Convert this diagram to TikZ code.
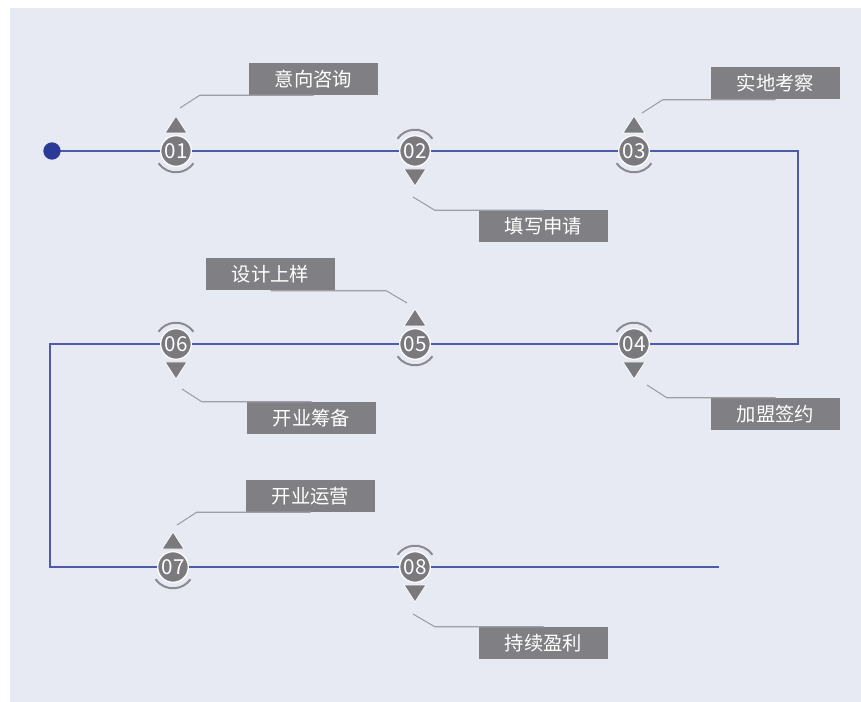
\documentclass[tikz,border=0pt]{standalone}
\usepackage{fontspec}
\usepackage{tikz}
\usetikzlibrary{calc}
\usepackage{color}
\newfontfamily\cjk{Noto Sans CJK SC}
\definecolor{panelbg}{RGB}{232,234,243}
\definecolor{flowblue}{RGB}{78,90,170}
\definecolor{dotblue}{RGB}{42,58,150}
\definecolor{stepgray}{RGB}{122,122,126}
\definecolor{boxgray}{RGB}{128,128,132}
\definecolor{arcgray}{RGB}{138,138,143}
\definecolor{leadgray}{RGB}{158,158,164}
\tikzstyle{stepnode}=[circle, fill=stepgray, draw=white!80!panelbg, line width=1pt, minimum size=23pt, inner sep=0pt, text=white, font=\cjk\fontsize{15.5}{15.5}\selectfont]
\tikzstyle{labelbox}=[fill=boxgray, minimum width=96.75pt, minimum height=24pt, inner sep=0pt, text=white, font=\cjk\fontsize{14.5}{14.5}\selectfont]
\tikzstyle{flow}=[flowblue, line width=1.5pt]
\tikzstyle{leader}=[leadgray, line width=0.8pt]
\tikzstyle{pointer}=[fill=stepgray, draw=white!80!panelbg, line width=0.6pt]
\tikzstyle{halo}=[arcgray, line width=1.5pt]

\begin{document}
\begin{tikzpicture}[x=0.75pt, y=-0.75pt]
    \fill[white] (0,0) rectangle (861,702);
    \fill[panelbg] (10,8) rectangle (861,702);
    \useasboundingbox (0,0) rectangle (861,702);
    % path of the steps
    \coordinate (start) at (52,151);
    \coordinate (c1) at (176,151);
    \coordinate (c2) at (415,151);
    \coordinate (c3) at (634,151);
    \coordinate (r1) at (798,151);
    \coordinate (r2) at (798,344);
    \coordinate (c4) at (634,344);
    \coordinate (c5) at (415,344);
    \coordinate (c6) at (176,344);
    \coordinate (l1) at (50,344);
    \coordinate (l2) at (50,567);
    \coordinate (c7) at (173,567);
    \coordinate (c8) at (415,567);
    \coordinate (fin) at (719,567);
    \draw[flow] (start) -- (r1) -- (r2) -- (l1) -- (l2) -- (fin);
    \fill[dotblue] (start) circle [radius=6.5pt];
    % label boxes
    \node [labelbox] (t1) at (313.5,79) {意向咨询};
    \node [labelbox] (t2) at (543.5,226.5) {填写申请};
    \node [labelbox] (t3) at (775.5,83.5) {实地考察};
    \node [labelbox] (t4) at (775.5,414) {加盟签约};
    \node [labelbox] (t5) at (270.5,274.5) {设计上样};
    \node [labelbox] (t6) at (311.5,418) {开业筹备};
    \node [labelbox] (t7) at (310.5,496) {开业运营};
    \node [labelbox] (t8) at (543.5,643) {持续盈利};
    % leaders
    \coordinate (p1) at (180,108);
    \coordinate (p2) at (413,197);
    \coordinate (p3) at (642,113);
    \coordinate (p4) at (647,385);
    \coordinate (p5) at (407,303);
    \coordinate (p6) at (182,389);
    \coordinate (p7) at (177,525);
    \coordinate (p8) at (413,614);
    \draw[leader] (p1) -- ($(t1.south west)+(-49,0)$) -- (t1.south);
    \draw[leader] (p2) -- ($(t2.north west)+(-44,0)$) -- (t2.north);
    \draw[leader] (p3) -- ($(t3.south west)+(-48,0)$) -- (t3.south);
    \draw[leader] (p4) -- ($(t4.north west)+(-44,0)$) -- (t4.north);
    \draw[leader] (p5) -- ($(t5.south east)+(51,0)$) -- (t5.south);
    \draw[leader] (p6) -- ($(t6.north west)+(-45,0)$) -- (t6.north);
    \draw[leader] (p7) -- ($(t7.south west)+(-49,0)$) -- (t7.south);
    \draw[leader] (p8) -- ($(t8.north west)+(-44,0)$) -- (t8.north);
    % pointers up
    \draw[pointer] (c1) ++(-11,-18) -- ++(11,-17) -- ++(11,17) -- cycle;
    \draw[pointer] (c3) ++(-11,-18) -- ++(11,-17) -- ++(11,17) -- cycle;
    \draw[pointer] (c5) ++(-11,-18) -- ++(11,-17) -- ++(11,17) -- cycle;
    \draw[pointer] (c7) ++(-11,-18) -- ++(11,-17) -- ++(11,17) -- cycle;
    \draw[halo] (c1) ++(215:16pt) arc [start angle=215, end angle=325, radius=16pt];
    \draw[halo] (c3) ++(215:16pt) arc [start angle=215, end angle=325, radius=16pt];
    \draw[halo] (c5) ++(215:16pt) arc [start angle=215, end angle=325, radius=16pt];
    \draw[halo] (c7) ++(215:16pt) arc [start angle=215, end angle=325, radius=16pt];
    % pointers down
    \draw[pointer] (c2) ++(-11,18) -- ++(11,17) -- ++(11,-17) -- cycle;
    \draw[pointer] (c4) ++(-11,18) -- ++(11,17) -- ++(11,-17) -- cycle;
    \draw[pointer] (c6) ++(-11,18) -- ++(11,17) -- ++(11,-17) -- cycle;
    \draw[pointer] (c8) ++(-11,18) -- ++(11,17) -- ++(11,-17) -- cycle;
    \draw[halo] (c2) ++(35:16pt) arc [start angle=35, end angle=145, radius=16pt];
    \draw[halo] (c4) ++(35:16pt) arc [start angle=35, end angle=145, radius=16pt];
    \draw[halo] (c6) ++(35:16pt) arc [start angle=35, end angle=145, radius=16pt];
    \draw[halo] (c8) ++(35:16pt) arc [start angle=35, end angle=145, radius=16pt];
    % steps
    \node [stepnode] (s1) at (c1) {01};
    \node [stepnode] (s2) at (c2) {02};
    \node [stepnode] (s3) at (c3) {03};
    \node [stepnode] (s4) at (c4) {04};
    \node [stepnode] (s5) at (c5) {05};
    \node [stepnode] (s6) at (c6) {06};
    \node [stepnode] (s7) at (c7) {07};
    \node [stepnode] (s8) at (c8) {08};
\end{tikzpicture}
\end{document}
